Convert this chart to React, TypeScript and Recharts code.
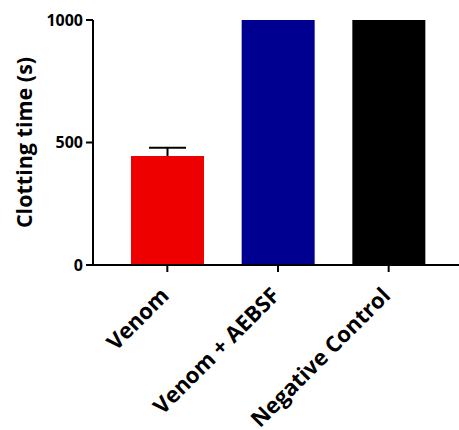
import { Bar, BarChart, Cell, Label, Rectangle, XAxis, YAxis } from "recharts";

const groups = ["Venom", "Venom + AEBSF", "Negative Control"];
const clotting = [445, 1000, 1000];
const errUp = [34, 0, 0];
const colors = ["#EE0000", "#000090", "#000000"];
const yTicks = [0, 500, 1000];

const data = groups.map((g, i) => ({
  name: g,
  value: clotting[i],
  err: errUp[i],
}));

const font = "'Open Sans', sans-serif";

const XTick = ({ x, y, payload }: any) => (
  <g transform={`translate(${x + 3},${y + 23})`}>
    <text
      transform="rotate(-45)"
      textAnchor="end"
      fontFamily={font}
      fontWeight="bold"
      fontSize={22}
      fill="#000"
    >
      {payload.value}
    </text>
  </g>
);

// bar plus upward-only SEM whisker, scaled from the bar's own geometry
const BarWithErr = (props: any) => {
  const { x, y, width, height, fill, payload } = props;
  const pxPerUnit = height / payload.value;
  const cx = x + width / 2;
  const top = y - payload.err * pxPerUnit;
  return (
    <g>
      <Rectangle x={x} y={y} width={width} height={height} fill={fill} />
      {payload.err > 0 && (
        <g stroke="#000" strokeWidth={2}>
          <line x1={cx} x2={cx} y1={y} y2={top} />
          <line x1={cx - 18.5} x2={cx + 18.5} y1={top} y2={top} />
        </g>
      )}
    </g>
  );
};

export default function App() {
  return (
    <div style={{ position: "absolute", left: 0, top: 0, background: "#fff" }}>
      <BarChart
        width={459}
        height={430}
        data={data}
        margin={{ top: 20, right: 0, bottom: 0, left: 0 }}
      >
        <XAxis
          dataKey="name"
          height={165}
          interval={0}
          padding={{ left: 19, right: 15 }}
          axisLine={{ stroke: "#000", strokeWidth: 2 }}
          tickLine={{ stroke: "#000", strokeWidth: 2 }}
          tickSize={7}
          tick={<XTick />}
        />
        <YAxis
          width={93}
          domain={[0, 1000]}
          ticks={yTicks}
          axisLine={{ stroke: "#000", strokeWidth: 2 }}
          tickLine={{ stroke: "#000", strokeWidth: 2 }}
          tickSize={7}
          tickMargin={3}
          tick={{ fill: "#000", fontFamily: font, fontWeight: "bold", fontSize: 16 }}
        >
          <Label
            value="Clotting time (s)"
            angle={-90}
            position="insideLeft"
            offset={0}
            dx={24}
            style={{
              textAnchor: "middle",
              fill: "#000",
              fontFamily: font,
              fontWeight: "bold",
              fontSize: 21.5,
            }}
          />
        </YAxis>
        <Bar
          dataKey="value"
          barSize={73}
          isAnimationActive={false}
          shape={<BarWithErr />}
        >
          {data.map((d, i) => (
            <Cell key={d.name} fill={colors[i]} />
          ))}
        </Bar>
      </BarChart>
    </div>
  );
}
